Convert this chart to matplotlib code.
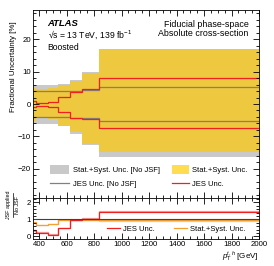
import matplotlib
matplotlib.use("Agg")
import matplotlib.pyplot as plt
from matplotlib.patches import Patch
from matplotlib.lines import Line2D
from matplotlib.ticker import MultipleLocator

plt.rcParams['font.family'] = ['Liberation Sans', 'DejaVu Sans']
plt.rcParams['mathtext.fontset'] = 'custom'
plt.rcParams['mathtext.rm'] = 'Liberation Sans'
plt.rcParams['mathtext.it'] = 'Liberation Sans:italic'

# bin edges in top pT [GeV]
edges = [355, 380, 465, 540, 625, 715, 835, 2000]

# main panel, fractional uncertainty [%]
tot_nojsf_up = [5.9, 5.9, 5.9, 6.2, 7.4, 10.0, 16.5]
tot_nojsf_dn = [-6.3, -6.3, -6.3, -6.9, -9.3, -12.6, -16.3]
tot_up = [5.0, 4.5, 4.8, 6.0, 7.1, 9.7, 17.0]
tot_dn = [-5.2, -4.4, -4.6, -6.8, -8.6, -12.4, -14.8]
jes_nojsf_up = [3.9, 3.9, 3.9, 3.9, 4.1, 4.3, 5.3]
jes_nojsf_dn = [-4.1, -4.1, -4.1, -4.1, -4.2, -4.4, -5.3]
jes_up = [0.9, 0.3, 0.6, 2.2, 3.8, 4.5, 7.9]
jes_dn = [-0.9, -0.6, -0.9, -2.5, -4.2, -4.5, -7.4]

# lower panel, ratio JSF applied / no JSF
ratio_jes_up = [0.38, 0.2, 0.1, 0.49, 0.94, 1.04, 1.43]
ratio_jes_dn = [0.33, 0.25, 0.15, 0.52, 0.97, 1.06, 1.5]
ratio_tot_up = [0.84, 0.69, 0.75, 0.98, 0.97, 0.97, 0.95]
ratio_tot_dn = [0.8, 0.65, 0.71, 0.97, 0.96, 0.96, 0.92]

yellow = '#eec83e'
grey = '#c9c9c9'
red = '#f02020'
orange = '#f5a030'

fig = plt.figure(figsize=(2.74, 2.66), dpi=100)
ax = fig.add_axes([0.1204, 0.2556, 0.8249, 0.7068])
rx = fig.add_axes([0.1204, 0.1015, 0.8249, 0.1541], sharex=ax)

ax.stairs(tot_nojsf_up, edges, baseline=tot_nojsf_dn, fill=True, color=grey, lw=0)
ax.stairs(tot_up, edges, baseline=tot_dn, fill=True, color=yellow, lw=0)
ax.stairs(jes_nojsf_up, edges, color='#808080', lw=0.9, baseline=None)
ax.stairs(jes_nojsf_dn, edges, color='#808080', lw=0.9, baseline=None)
ax.stairs(jes_up, edges, color=red, lw=0.9, baseline=None)
ax.stairs(jes_dn, edges, color=red, lw=0.9, baseline=None)

ax.set_xlim(355, 2000)
ax.set_ylim(-29, 29)
fig.text(14 / 274, 1 - 67 / 266, 'Fractional Uncertainty [%]', rotation=90,
         fontsize=5.7, ha='center', va='center')

ax.text(0.065, 0.926, 'ATLAS', transform=ax.transAxes, fontsize=6.8,
        fontweight='bold', style='italic', va='center')
ax.text(0.065, 0.87, '\u221as = 13 TeV, 139 fb$^{-1}$', transform=ax.transAxes,
        fontsize=6.2, va='center')
ax.text(0.065, 0.803, 'Boosted', transform=ax.transAxes, fontsize=6.2, va='center')
ax.text(0.955, 0.924, 'Fiducial phase-space', transform=ax.transAxes, fontsize=6.4,
        va='center', ha='right')
ax.text(0.955, 0.874, 'Absolute cross-section', transform=ax.transAxes, fontsize=6.4,
        va='center', ha='right')

h1 = [Patch(color=grey, lw=0), Line2D([], [], color='#808080', lw=0.9)]
h2 = [Patch(color='#ffdc50', lw=0), Line2D([], [], color=red, lw=0.9)]
lg1 = ax.legend(h1, ['Stat.+Syst. Unc. [No JSF]', 'JES Unc. [No JSF]'],
                loc='lower left', bbox_to_anchor=(0.06, 0.035), frameon=False,
                fontsize=5.5, handlelength=2.6, handleheight=1.5, labelspacing=0.6,
                handletextpad=0.4, borderaxespad=0)
ax.add_artist(lg1)
ax.legend(h2, ['Stat.+Syst. Unc.', 'JES Unc.'],
          loc='lower left', bbox_to_anchor=(0.6, 0.035), frameon=False,
          fontsize=5.5, handlelength=2.3, handleheight=1.5, labelspacing=0.6,
          handletextpad=0.4, borderaxespad=0)

rx.axhline(1, color='#404040', lw=0.8)
rx.stairs(ratio_tot_dn, edges, color='#fbc890', lw=0.9, baseline=None)
rx.stairs(ratio_jes_dn, edges, color='#f7a0a0', lw=0.9, baseline=None)
rx.stairs(ratio_tot_up, edges, color=orange, lw=0.9, baseline=None)
rx.stairs(ratio_jes_up, edges, color=red, lw=0.9, baseline=None)
rx.set_ylim(-0.15, 2.25)
rx.set_yticks([0, 1, 2])
rx.yaxis.set_minor_locator(MultipleLocator(0.2))
rx.set_xlabel(r'$p_{\mathrm{T}}^{t,h}$ [GeV]', fontsize=5.8, loc='right', labelpad=1)

# ratio axis title drawn as a fraction
fy = 1 - 205 / 266
fig.text(8.5 / 274, fy, 'JSF applied', rotation=90, fontsize=3.9, ha='center', va='center')
fig.text(17.5 / 274, fy, 'No JSF', rotation=90, fontsize=3.9, ha='center', va='center')
fig.add_artist(Line2D([12.8 / 274, 12.8 / 274], [fy - 12 / 266, fy + 12 / 266],
                      color='black', lw=0.5, transform=fig.transFigure))

hr = [Line2D([], [], color=red, lw=0.9), Line2D([], [], color=orange, lw=0.9)]
rx.legend(hr, ['JES Unc.', 'Stat.+Syst. Unc.'], loc='lower right', ncol=2,
          bbox_to_anchor=(0.955, 0.07), frameon=False, fontsize=5.5,
          handlelength=1.7, handletextpad=0.4, columnspacing=2.6, borderaxespad=0)

for a in (ax, rx):
    a.xaxis.set_major_locator(MultipleLocator(200))
    a.xaxis.set_minor_locator(MultipleLocator(50))
    a.tick_params(which='both', direction='in', top=True, right=True, labelsize=5.6,
                  width=0.6, pad=1.5)
    a.tick_params(which='major', length=4)
    a.tick_params(which='minor', length=2)
    for s in a.spines.values():
        s.set_linewidth(0.6)
ax.yaxis.set_major_locator(MultipleLocator(10))
ax.yaxis.set_minor_locator(MultipleLocator(2))
ax.tick_params(labelbottom=False)

fig.savefig('out.png', dpi=100)
